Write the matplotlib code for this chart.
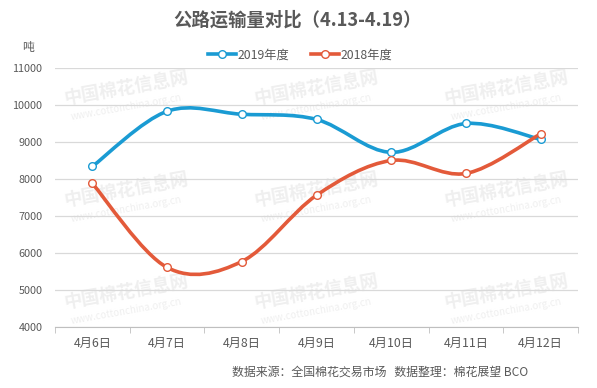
import numpy as np
import matplotlib
matplotlib.use("Agg")
import matplotlib.pyplot as plt
from matplotlib.path import Path
from matplotlib.patches import PathPatch
from matplotlib.lines import Line2D

plt.rcParams['font.family'] = ['Noto Sans CJK SC', 'DejaVu Sans']

title = "公路运输量对比（4.13-4.19）"
categories = ["4月6日", "4月7日", "4月8日", "4月9日", "4月10日", "4月11日", "4月12日"]
series_names = ["2019年度", "2018年度"]
values_2019 = [8340, 9830, 9750, 9610, 8720, 9500, 9070]
values_2018 = [7880, 5610, 5770, 7560, 8500, 8150, 9220]
y_ticks = [4000, 5000, 6000, 7000, 8000, 9000, 10000, 11000]
unit = "吨"
source = "数据来源：全国棉花交易市场   数据整理：棉花展望 BCO"
watermark = "中国棉花信息网"
watermark_url = "www.cottonchina.org.cn"

colors = ["#1A9BD3", "#E35A3A"]
text_color = "#595959"

fig = plt.figure(figsize=(5.97, 3.88), dpi=100)
L, R, T, B = 55, 578, 68, 327
ax = fig.add_axes([L/597, 1-B/388, (R-L)/597, (B-T)/388])
ax.set_zorder(1)

# faint watermarks (behind the axes)
for cx in [62, 252, 442]:
    for cy in [88, 190, 292]:
        fig.text(cx/597, 1-cy/388, watermark, fontsize=13, fontweight='bold',
                 color="#EFEFEF", rotation=10, ha='left', va='center', zorder=-1)
        fig.text((cx+8)/597, 1-(cy+19)/388, watermark_url, fontsize=7,
                 color="#EFEFEF", rotation=10, ha='left', va='center', zorder=-1)

x = np.arange(len(categories))


def smooth_path(xs, ys):
    xs = np.asarray(xs, float)
    ys = np.asarray(ys, float)
    n = len(xs)
    verts = [(xs[0], ys[0])]
    codes = [Path.MOVETO]
    for i in range(n - 1):
        p0 = (xs[max(i-1, 0)], ys[max(i-1, 0)])
        p1 = (xs[i], ys[i])
        p2 = (xs[i+1], ys[i+1])
        p3 = (xs[min(i+2, n-1)], ys[min(i+2, n-1)])
        c1 = (p1[0] + (p2[0]-p0[0])/6, p1[1] + (p2[1]-p0[1])/6)
        c2 = (p2[0] - (p3[0]-p1[0])/6, p2[1] - (p3[1]-p1[1])/6)
        verts += [c1, c2, p2]
        codes += [Path.CURVE4]*3
    return Path(verts, codes)


for vals, col in [(values_2019, colors[0]), (values_2018, colors[1])]:
    patch = PathPatch(smooth_path(x, vals), facecolor='none', edgecolor=col, lw=2.6,
                      capstyle='round', zorder=3)
    ax.add_patch(patch)
    ax.plot(x, vals, linestyle='none', marker='o', ms=5.5, mfc='white', mec=col,
            mew=1.0, zorder=4)

ax.set_xlim(-0.5, len(categories)-0.5)
ax.set_ylim(4000, 11000)
ax.set_yticks(y_ticks)
ax.set_yticklabels([str(v) for v in y_ticks], fontsize=7.8, color=text_color)
ax.set_xticks(x)
ax.set_xticklabels(categories, fontsize=8.8, color=text_color)
ax.set_xticks(np.arange(-0.5, len(categories)), minor=True)
ax.tick_params(axis='x', which='major', length=0, pad=7)
ax.tick_params(axis='x', which='minor', length=4, color="#BFBFBF", direction='out')
ax.tick_params(axis='y', length=0, pad=9)
ax.grid(axis='y', color="#D9D9D9", lw=0.9)
ax.set_axisbelow(True)
for s in ['top', 'right', 'left']:
    ax.spines[s].set_visible(False)
ax.spines['bottom'].set_color("#BFBFBF")
ax.patch.set_alpha(0)

fig.text(297/597, 1-20/388, title, fontsize=13.2, fontweight='bold', color=text_color,
         ha='center', va='center')
fig.text(28/597, 1-47/388, unit, fontsize=8.5, color=text_color, ha='center', va='center')

handles = [Line2D([0], [0], color=c, lw=2.6, marker='o', ms=5.5, mfc='white', mec=c)
           for c in colors]
fig.legend(handles, series_names, loc='center', bbox_to_anchor=(300/597, 1-55/388),
           ncol=2, frameon=False, fontsize=8.8, handlelength=2.3, handletextpad=0.1,
           columnspacing=1.8, labelcolor=text_color)

fig.text(232/597, 1-372/388, source, fontsize=8.6, color=text_color, ha='left', va='center')

fig.savefig("out.png", dpi=100)
